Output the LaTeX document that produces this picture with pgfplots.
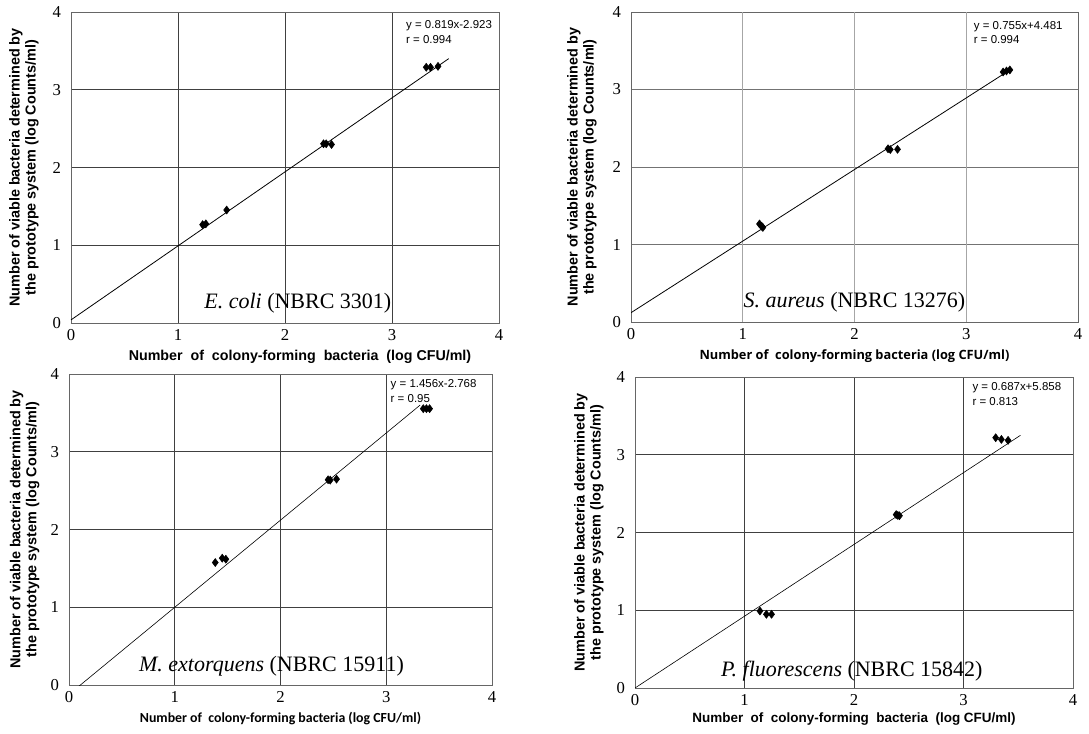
\documentclass[border=0pt]{standalone}
\usepackage{fontspec}
\setmainfont{Liberation Serif}
\setsansfont{Liberation Sans}
\newfontfamily\opensans{Open Sans}
\newfontfamily\carlito{Carlito}
\usepackage{pgfplots}
\pgfplotsset{compat=1.18}
\pgfplotsset{
  myax/.style={
    scale only axis,
    xmin=0, xmax=4, ymin=0, ymax=4,
    xtick={0,1,2,3,4}, ytick={0,1,2,3,4},
    grid=major,
    major grid style={draw=black!75, line width=0.7pt},
    axis line style={draw=black!60, line width=0.7pt},
    tick style={draw=none},
    /pgf/number format/assume math mode=true,
    tick label style={font=\fontsize{12.5}{14}\selectfont},
    yticklabel style={xshift=-4pt},
    xticklabel style={yshift=-1pt},
    ylabel style={font=\sffamily\bfseries\fontsize{10.8}{12}\selectfont, align=center, at={(axis description cs:-0.11,0.5)}, anchor=center},
    xlabel style={font=\sffamily\bfseries\fontsize{10.9}{12}\selectfont, at={(axis description cs:0.5,-0.109)}, anchor=center},
    xlabel={Number\ \ of\ \ colony-forming\ \ bacteria\ \ (log CFU/ml)},
    ylabel={Number of viable bacteria determined by\\the prototype system (log Counts/ml)},
  },
  pts/.style={only marks, mark=diamond*, mark size=3pt, mark options={fill=black, draw=black}},
  fit/.style={black, line width=0.6pt, no marks},
}
\newcommand{\eqfont}{\sffamily\fontsize{8.6}{10.8}\selectfont}
\newcommand{\spfont}{\fontsize{16.5}{18}\selectfont}
\begin{document}
\begin{tikzpicture}
\path[use as bounding box] (0,0) rectangle (816.75pt,549.75pt);
% Panel 1
\begin{axis}[myax, at={(53.25pt,307.5pt)}, anchor=south west, width=321pt, height=233.25pt,
  xlabel style={at={(axis description cs:0.535,-0.109)}, font=\sffamily\bfseries\fontsize{10.7}{12}\selectfont}]
\addplot[fit] coordinates {(0,0.04) (3.53,3.40)};
\addplot[pts] coordinates {(1.23,1.265) (1.26,1.275) (1.455,1.453) (2.36,2.305) (2.385,2.305) (2.435,2.296) (3.32,3.289) (3.36,3.289) (3.43,3.301)};
\node[anchor=north west, align=left, inner sep=0pt, font=\eqfont] at (axis cs:3.13,3.89) {y = 0.819x-2.923\\r = 0.994};
\node[font=\spfont] at (axis cs:2.12,0.26) {\textit{E. coli} (NBRC 3301)};
\end{axis}
% Panel 2
\begin{axis}[myax, at={(473.25pt,308.25pt)}, anchor=south west, width=335.25pt, height=232.5pt,
  major grid style={draw=black!55, line width=0.7pt},
  xmajorgrids=false,
  xlabel={Number of\ \ colony-forming bacteria (log CFU/ml)},
  xlabel style={font=\opensans\bfseries\fontsize{9.6}{11}\selectfont}]
\addplot[draw=black!35, line width=0.7pt, forget plot] coordinates {(1,0) (1,4)};
\addplot[draw=black!35, line width=0.7pt, forget plot] coordinates {(2,0) (2,4)};
\addplot[draw=black!35, line width=0.7pt, forget plot] coordinates {(3,0) (3,4)};
\addplot[fit] coordinates {(0,0.12) (3.41,3.27)};
\addplot[pts] coordinates {(1.15,1.265) (1.17,1.235) (1.18,1.22) (2.30,2.235) (2.32,2.225) (2.385,2.228) (3.33,3.226) (3.36,3.239) (3.39,3.252)};
\node[anchor=north west, align=left, inner sep=0pt, font=\eqfont] at (axis cs:3.066,3.88) {y = 0.755x+4.481\\r = 0.994};
\node[font=\spfont] at (axis cs:2.0,0.26) {\textit{S. aureus} (NBRC 13276)};
\end{axis}
% Panel 3
\begin{axis}[myax, at={(51.75pt,36pt)}, anchor=south west, width=317.25pt, height=233.25pt,
  xlabel={Number of\ \ colony-forming bacteria (log CFU/ml)},
  xlabel style={font=\carlito\bfseries\fontsize{10.4}{12}\selectfont},
  ylabel style={at={(axis description cs:-0.105,0.5)}}]
\addplot[fit, line width=0.45pt] coordinates {(0.09,-0.02) (3.32,3.6)};
\addplot[pts] coordinates {(1.383,1.575) (1.449,1.631) (1.483,1.618) (2.45,2.64) (2.47,2.635) (2.53,2.648) (3.35,3.554) (3.38,3.554) (3.41,3.554)};
\node[anchor=north west, align=left, inner sep=0pt, font=\eqfont] at (axis cs:3.04,3.93) {y = 1.456x-2.768\\r = 0.95};
\node[font=\spfont] at (axis cs:1.915,0.24) {\textit{M. extorquens} (NBRC 15911)};
\end{axis}
% Panel 4
\begin{axis}[myax, at={(476.25pt,33.75pt)}, anchor=south west, width=328.5pt, height=233.25pt,
  xlabel style={at={(axis description cs:0.5,-0.10)}, font=\sffamily\bfseries\fontsize{10.1}{12}\selectfont},
  ylabel style={at={(axis description cs:-0.105,0.5)}}]
\addplot[fit, line width=0.45pt] coordinates {(0,0) (3.52,3.25)};
\addplot[pts] coordinates {(1.141,0.99) (1.20,0.948) (1.247,0.948) (2.385,2.23) (2.40,2.22) (2.415,2.215) (3.294,3.219) (3.346,3.197) (3.407,3.185)};
\node[anchor=north west, align=left, inner sep=0pt, font=\eqfont] at (axis cs:3.08,3.93) {y = 0.687x+5.858\\r = 0.813};
\node[font=\spfont] at (axis cs:1.98,0.22) {\textit{P. fluorescens} (NBRC 15842)};
\end{axis}
\end{tikzpicture}
\end{document}
